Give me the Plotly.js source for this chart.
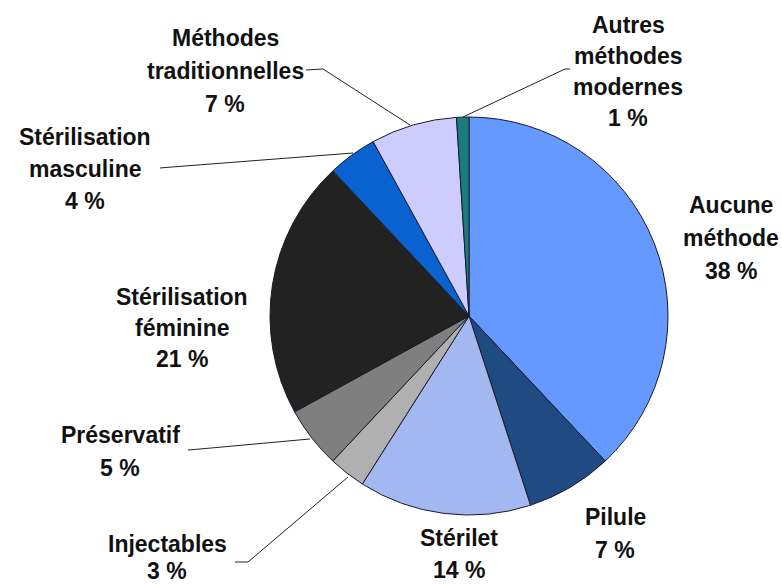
<!DOCTYPE html>
<html>
<head>
<meta charset="utf-8">
<script src="https://cdn.plot.ly/plotly-3.0.1.min.js"></script>
<style>html,body{margin:0;padding:0;background:#fff;}#chart{width:782px;height:587px;}</style>
</head>
<body>
<div id="chart"></div>
<script>
// ---- data ----
const categories = ["Aucune méthode", "Pilule", "Stérilet", "Injectables", "Préservatif",
  "Stérilisation féminine", "Stérilisation masculine", "Méthodes traditionnelles", "Autres méthodes modernes"];
const values = [38, 7, 14, 3, 5, 21, 4, 7, 1];
const labelLines = [
  ["Aucune", "méthode"],
  ["Pilule"],
  ["Stérilet"],
  ["Injectables"],
  ["Préservatif"],
  ["Stérilisation", "féminine"],
  ["Stérilisation", "masculine"],
  ["Méthodes", "traditionnelles"],
  ["Autres", "méthodes", "modernes"]
];
const colors = ["#6699FF", "#1F4A82", "#A3B8F0", "#B0B0B0", "#7F7F7F", "#222222", "#0A62D0", "#CCCCFF", "#1C7C7C"];

// ---- layout helpers (pixel -> paper) ----
const W = 782, H = 587;
const px = x => x / W, py = y => 1 - y / H;
const cx = 469, cy = 316, r = 199;

// label anchor (center x, first line y, line spacing, font size)
const labelPos = [
  [731, 205, 33, 23],
  [615, 517, 33, 23],
  [459, 538, 32, 23],
  [167, 544, 27, 23],
  [120, 435, 33, 23],
  [182, 297, 31, 23],
  [85, 137, 32, 23],
  [225, 38, 33, 23],
  [628, 25, 31, 23]
];
const leaders = [
  null, null, null,
  [[235, 562], [248, 562], [348, 477]],
  [[188, 450], [200, 449], [310, 439]],
  null,
  [[160, 168], [172, 167], [353, 153]],
  [[306, 70], [323, 69], [410, 125]],
  [[463, 117], [565, 69], [570, 69]]
];

const annotations = [];
categories.forEach((c, i) => {
  const lines = labelLines[i].concat([values[i] + " %"]);
  const [x, y0, dy, fs] = labelPos[i];
  lines.forEach((t, k) => {
    annotations.push({
      text: t, xref: "paper", yref: "paper", x: px(x), y: py(y0 + k * dy),
      xanchor: "center", yanchor: "middle", showarrow: false, borderpad: 0,
      font: {family: "Liberation Sans, Arial, sans-serif", size: fs, color: "#111", weight: 700}
    });
  });
});
const shapes = [];
leaders.forEach(l => {
  if (!l) return;
  const path = l.map((p, k) => (k ? "L" : "M") + px(p[0]).toFixed(5) + "," + py(p[1]).toFixed(5)).join(" ");
  shapes.push({type: "path", xref: "paper", yref: "paper", path: path, line: {color: "#222", width: 1}});
});

const trace = {
  type: "pie",
  labels: categories,
  values: values,
  sort: false,
  direction: "clockwise",
  rotation: 0,
  textinfo: "none",
  hoverinfo: "label+percent",
  marker: {colors: colors, line: {color: "#1a1a2e", width: 1}},
  domain: {x: [px(cx - r), px(cx + r)], y: [py(cy + r), py(cy - r)]},
  showlegend: false
};

const layout = {
  width: W, height: H,
  margin: {l: 0, r: 0, t: 0, b: 0},
  paper_bgcolor: "#fff",
  font: {family: "Liberation Sans, Arial, sans-serif"},
  annotations: annotations,
  shapes: shapes,
  showlegend: false
};

Plotly.newPlot("chart", [trace], layout, {displayModeBar: false, staticPlot: true});
</script>
</body>
</html>
